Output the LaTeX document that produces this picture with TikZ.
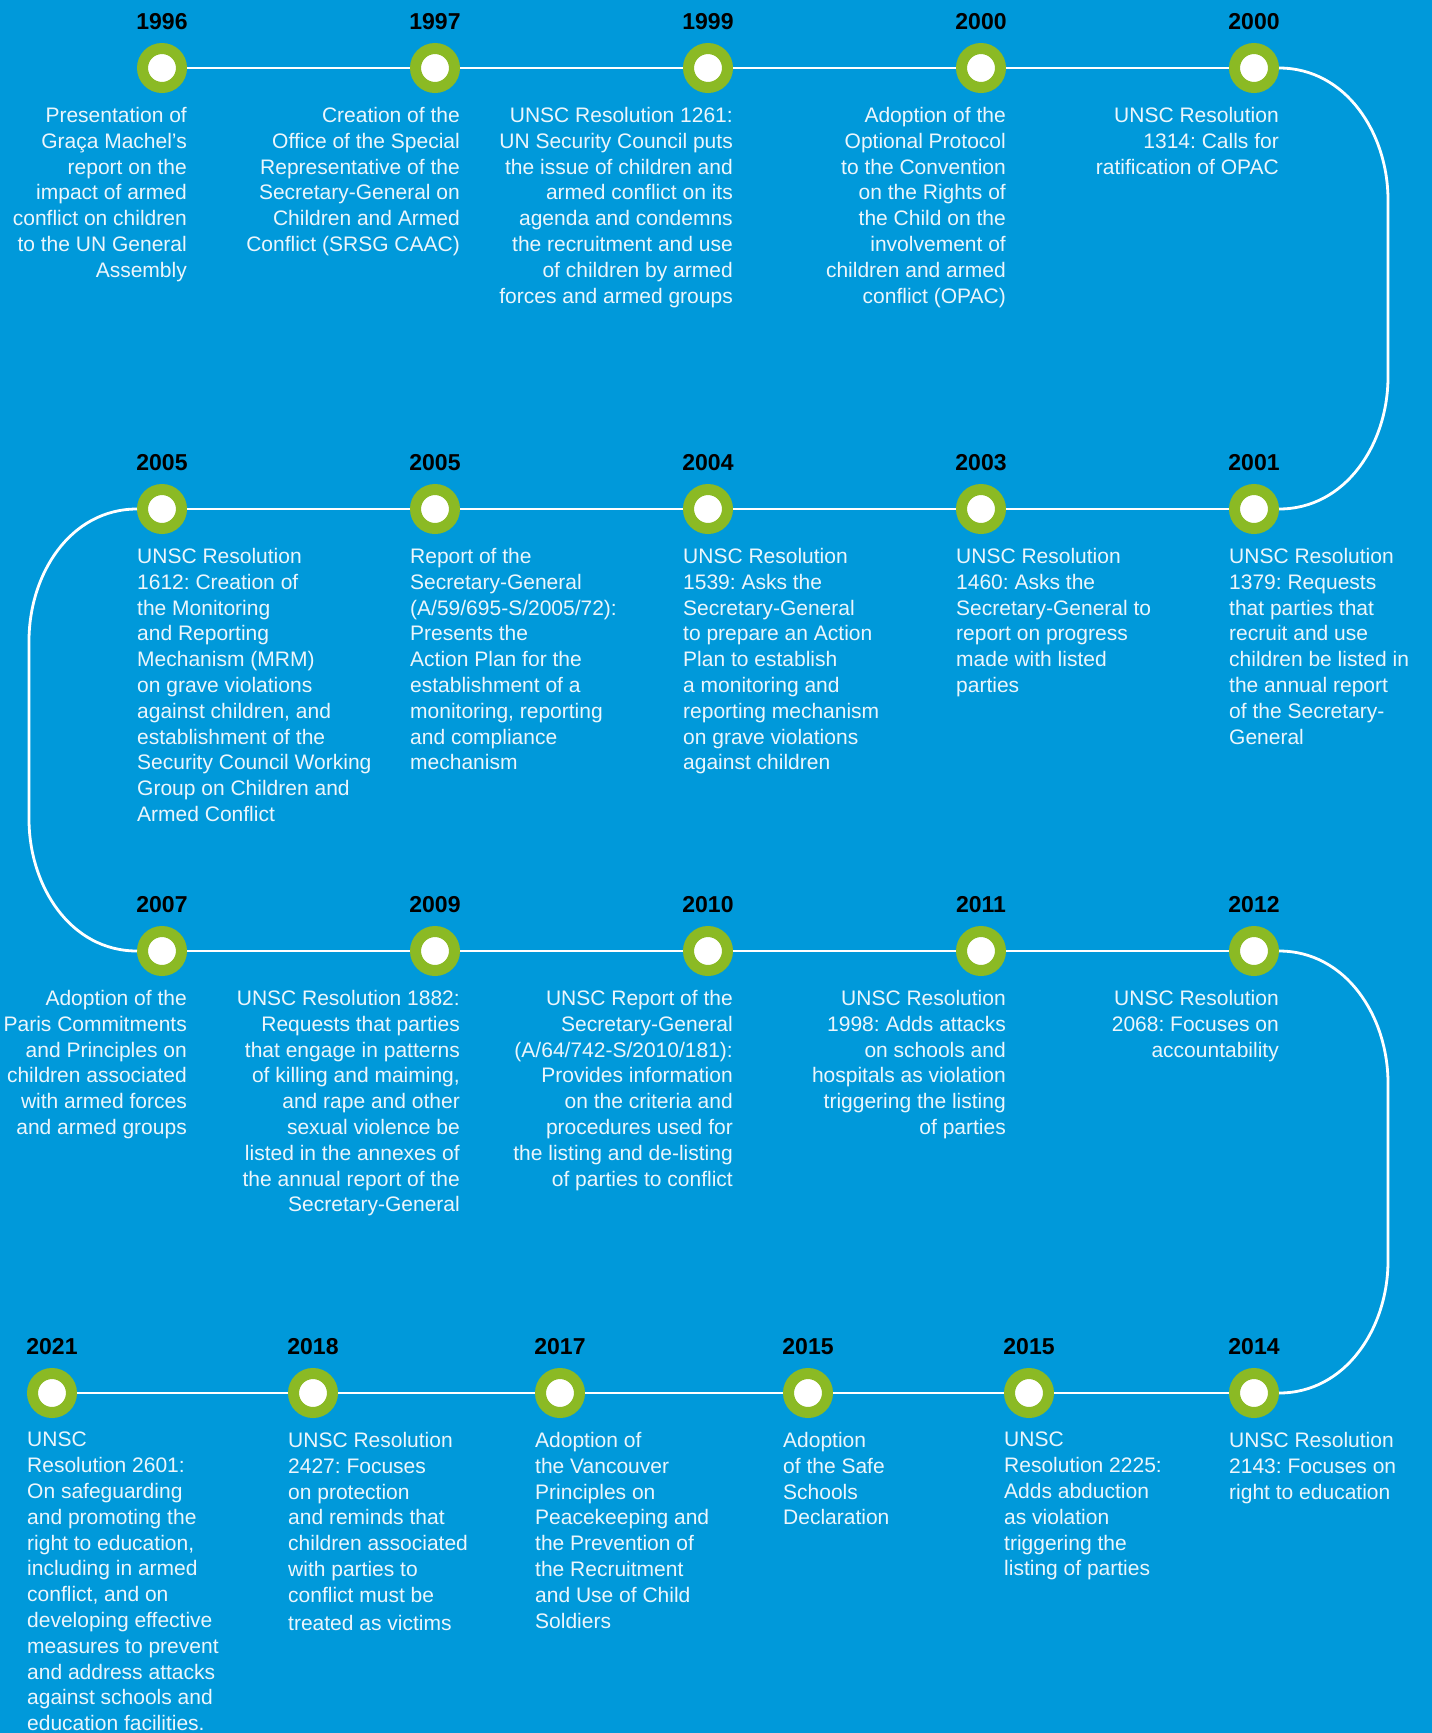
\documentclass[tikz,border=0pt]{standalone}
\usepackage{fontspec}
\setmainfont{Liberation Sans}
\usepackage{tikz}
\usetikzlibrary{positioning}
\definecolor{unblue}{RGB}{0,153,218}
\definecolor{ringgreen}{RGB}{139,186,36}
\definecolor{softwhite}{RGB}{236,246,252}
\frenchspacing

\begin{document}
\begin{tikzpicture}[x=1pt, y=-1pt, node distance=223pt,
	dot/.style={circle, draw=ringgreen, fill=white, line width=11pt, minimum size=39pt, inner sep=0pt},
	yearlbl/.style={font=\fontsize{23}{26}\selectfont\bfseries, text=black, inner sep=0pt},
	descr/.style={font=\fontsize{21}{25.8}\selectfont, text=softwhite, align=right, inner sep=0pt, anchor=north east},
	descl/.style={font=\fontsize{21}{25.8}\selectfont, text=softwhite, align=left, inner sep=0pt, anchor=north west},
	tline/.style={draw=white, line width=2.8pt}]
		\useasboundingbox (0,0) rectangle (1432,1733);
		\fill[unblue] (0,0) rectangle (1432,1733);
		
		\node[dot] (y1996) at (162,68) {};
		\node[dot, right = of y1996] (y1997) {};
		\node[dot, right = of y1997] (y1999) {};
		\node[dot, right = of y1999] (y2000a) {};
		\node[dot, right = of y2000a] (y2000b) {};
		
		\node[dot, below = 391pt of y1996] (y2005a) {};
		\node[dot, right = of y2005a] (y2005b) {};
		\node[dot, right = of y2005b] (y2004) {};
		\node[dot, right = of y2004] (y2003) {};
		\node[dot, right = of y2003] (y2001) {};
		
		\node[dot, below = 392pt of y2005a] (y2007) {};
		\node[dot, right = of y2007] (y2009) {};
		\node[dot, right = of y2009] (y2010) {};
		\node[dot, right = of y2010] (y2011) {};
		\node[dot, right = of y2011] (y2012) {};
		
		\node[dot, below = 392pt of y2012] (y2014) {};
		\node[dot, left = 175pt of y2014] (y2015b) {};
		\node[dot, left = 171pt of y2015b] (y2015a) {};
		\node[dot, left = 198pt of y2015a] (y2017) {};
		\node[dot, left = 197pt of y2017] (y2018) {};
		\node[dot, left = 211pt of y2018] (y2021) {};
		
		\coordinate (bendRa) at (1388,200);
		\coordinate (bendRb) at (1388,377);
		\coordinate (bendLa) at (29,641);
		\coordinate (bendLb) at (29,819);
		\coordinate (bendRc) at (1388,1083);
		\coordinate (bendRd) at (1388,1261);
		
		\draw[tline] (y1996) -- (y1997);
		\draw[tline] (y1997) -- (y1999);
		\draw[tline] (y1999) -- (y2000a);
		\draw[tline] (y2000a) -- (y2000b);
		\draw[tline] (y2000b) to[out=0, in=90] (bendRa) -- (bendRb) to[out=-90, in=0] (y2001);
		\draw[tline] (y2001) -- (y2003);
		\draw[tline] (y2003) -- (y2004);
		\draw[tline] (y2004) -- (y2005b);
		\draw[tline] (y2005b) -- (y2005a);
		\draw[tline] (y2005a) to[out=180, in=90] (bendLa) -- (bendLb) to[out=-90, in=180] (y2007);
		\draw[tline] (y2007) -- (y2009);
		\draw[tline] (y2009) -- (y2010);
		\draw[tline] (y2010) -- (y2011);
		\draw[tline] (y2011) -- (y2012);
		\draw[tline] (y2012) to[out=0, in=90] (bendRc) -- (bendRd) to[out=-90, in=0] (y2014);
		\draw[tline] (y2014) -- (y2015b);
		\draw[tline] (y2015b) -- (y2015a);
		\draw[tline] (y2015a) -- (y2017);
		\draw[tline] (y2017) -- (y2018);
		\draw[tline] (y2018) -- (y2021);
		
		\node[yearlbl, above = 13pt of y1996] (l1996) {1996};
		\node[yearlbl, above = 13pt of y1997] (l1997) {1997};
		\node[yearlbl, above = 13pt of y1999] (l1999) {1999};
		\node[yearlbl, above = 13pt of y2000a] (l2000a) {2000};
		\node[yearlbl, above = 13pt of y2000b] (l2000b) {2000};
		\node[yearlbl, above = 13pt of y2005a] (l2005a) {2005};
		\node[yearlbl, above = 13pt of y2005b] (l2005b) {2005};
		\node[yearlbl, above = 13pt of y2004] (l2004) {2004};
		\node[yearlbl, above = 13pt of y2003] (l2003) {2003};
		\node[yearlbl, above = 13pt of y2001] (l2001) {2001};
		\node[yearlbl, above = 13pt of y2007] (l2007) {2007};
		\node[yearlbl, above = 13pt of y2009] (l2009) {2009};
		\node[yearlbl, above = 13pt of y2010] (l2010) {2010};
		\node[yearlbl, above = 13pt of y2011] (l2011) {2011};
		\node[yearlbl, above = 13pt of y2012] (l2012) {2012};
		\node[yearlbl, above = 13pt of y2021] (l2021) {2021};
		\node[yearlbl, above = 13pt of y2018] (l2018) {2018};
		\node[yearlbl, above = 13pt of y2017] (l2017) {2017};
		\node[yearlbl, above = 13pt of y2015a] (l2015a) {2015};
		\node[yearlbl, above = 13pt of y2015b] (l2015b) {2015};
		\node[yearlbl, above = 13pt of y2014] (l2014) {2014};
		
		\node[descr] (t1996) at ([yshift=-39pt]y1996.east) {Presentation of\\Graça Machel’s\\report on the\\impact of armed\\conflict on children\\to the UN General\\Assembly};
		\node[descr] (t1997) at ([yshift=-39pt]y1997.east) {Creation of the\\Office of the Special\\Representative of the\\Secretary-General on\\Children and Armed\\Conflict (SRSG CAAC)};
		\node[descr] (t1999) at ([yshift=-39pt]y1999.east) {UNSC Resolution 1261:\\UN Security Council puts\\the issue of children and\\armed conflict on its\\agenda and condemns\\the recruitment and use\\of children by armed\\forces and armed groups};
		\node[descr] (t2000a) at ([yshift=-39pt]y2000a.east) {Adoption of the\\Optional Protocol\\to the Convention\\on the Rights of\\the Child on the\\involvement of\\children and armed\\conflict (OPAC)};
		\node[descr] (t2000b) at ([yshift=-39pt]y2000b.east) {UNSC Resolution\\1314: Calls for\\ratification of OPAC};
		
		\node[descl] (t2005a) at ([yshift=-39pt]y2005a.west) {UNSC Resolution\\1612: Creation of\\the Monitoring\\and Reporting\\Mechanism (MRM)\\on grave violations\\against children, and\\establishment of the\\Security Council Working\\Group on Children and\\Armed Conflict};
		\node[descl] (t2005b) at ([yshift=-39pt]y2005b.west) {Report of the\\Secretary-General\\(A/59/695-S/2005/72):\\Presents the\\Action Plan for the\\establishment of a\\monitoring, reporting\\and compliance\\mechanism};
		\node[descl] (t2004) at ([yshift=-39pt]y2004.west) {UNSC Resolution\\1539: Asks the\\Secretary-General\\to prepare an Action\\Plan to establish\\a monitoring and\\reporting mechanism\\on grave violations\\against children};
		\node[descl] (t2003) at ([yshift=-39pt]y2003.west) {UNSC Resolution\\1460: Asks the\\Secretary-General to\\report on progress\\made with listed\\parties};
		\node[descl] (t2001) at ([yshift=-39pt]y2001.west) {UNSC Resolution\\1379: Requests\\that parties that\\recruit and use\\children be listed in\\the annual report\\of the Secretary-\\General};
		
		\node[descr] (t2007) at ([yshift=-39pt]y2007.east) {Adoption of the\\Paris Commitments\\and Principles on\\children associated\\with armed forces\\and armed groups};
		\node[descr] (t2009) at ([yshift=-39pt]y2009.east) {UNSC Resolution 1882:\\Requests that parties\\that engage in patterns\\of killing and maiming,\\and rape and other\\sexual violence be\\listed in the annexes of\\the annual report of the\\Secretary-General};
		\node[descr] (t2010) at ([yshift=-39pt]y2010.east) {UNSC Report of the\\Secretary-General\\(A/64/742-S/2010/181):\\Provides information\\on the criteria and\\procedures used for\\the listing and de-listing\\of parties to conflict};
		\node[descr] (t2011) at ([yshift=-39pt]y2011.east) {UNSC Resolution\\1998: Adds attacks\\on schools and\\hospitals as violation\\triggering the listing\\of parties};
		\node[descr] (t2012) at ([yshift=-39pt]y2012.east) {UNSC Resolution\\2068: Focuses on\\accountability};
		
		\node[descl] (t2021) at ([yshift=-39pt]y2021.west) {UNSC\\Resolution 2601:\\On safeguarding\\and promoting the\\right to education,\\including in armed\\conflict, and on\\developing effective\\measures to prevent\\and address attacks\\against schools and\\education facilities.};
		\node[descl] (t2018) at ([yshift=-39pt]y2018.west) {UNSC Resolution\\2427: Focuses\\on protection\\and reminds that\\children associated\\with parties to\\conflict must be\\[2pt]treated as victims};
		\node[descl] (t2017) at ([yshift=-39pt]y2017.west) {Adoption of\\the Vancouver\\Principles on\\Peacekeeping and\\the Prevention of\\the Recruitment\\and Use of Child\\Soldiers};
		\node[descl] (t2015a) at ([yshift=-39pt]y2015a.west) {Adoption\\of the Safe\\Schools\\Declaration};
		\node[descl] (t2015b) at ([yshift=-39pt]y2015b.west) {UNSC\\Resolution 2225:\\Adds abduction\\as violation\\triggering the\\listing of parties};
		\node[descl] (t2014) at ([yshift=-39pt]y2014.west) {UNSC Resolution\\2143: Focuses on\\right to education};
	\end{tikzpicture}
\end{document}
